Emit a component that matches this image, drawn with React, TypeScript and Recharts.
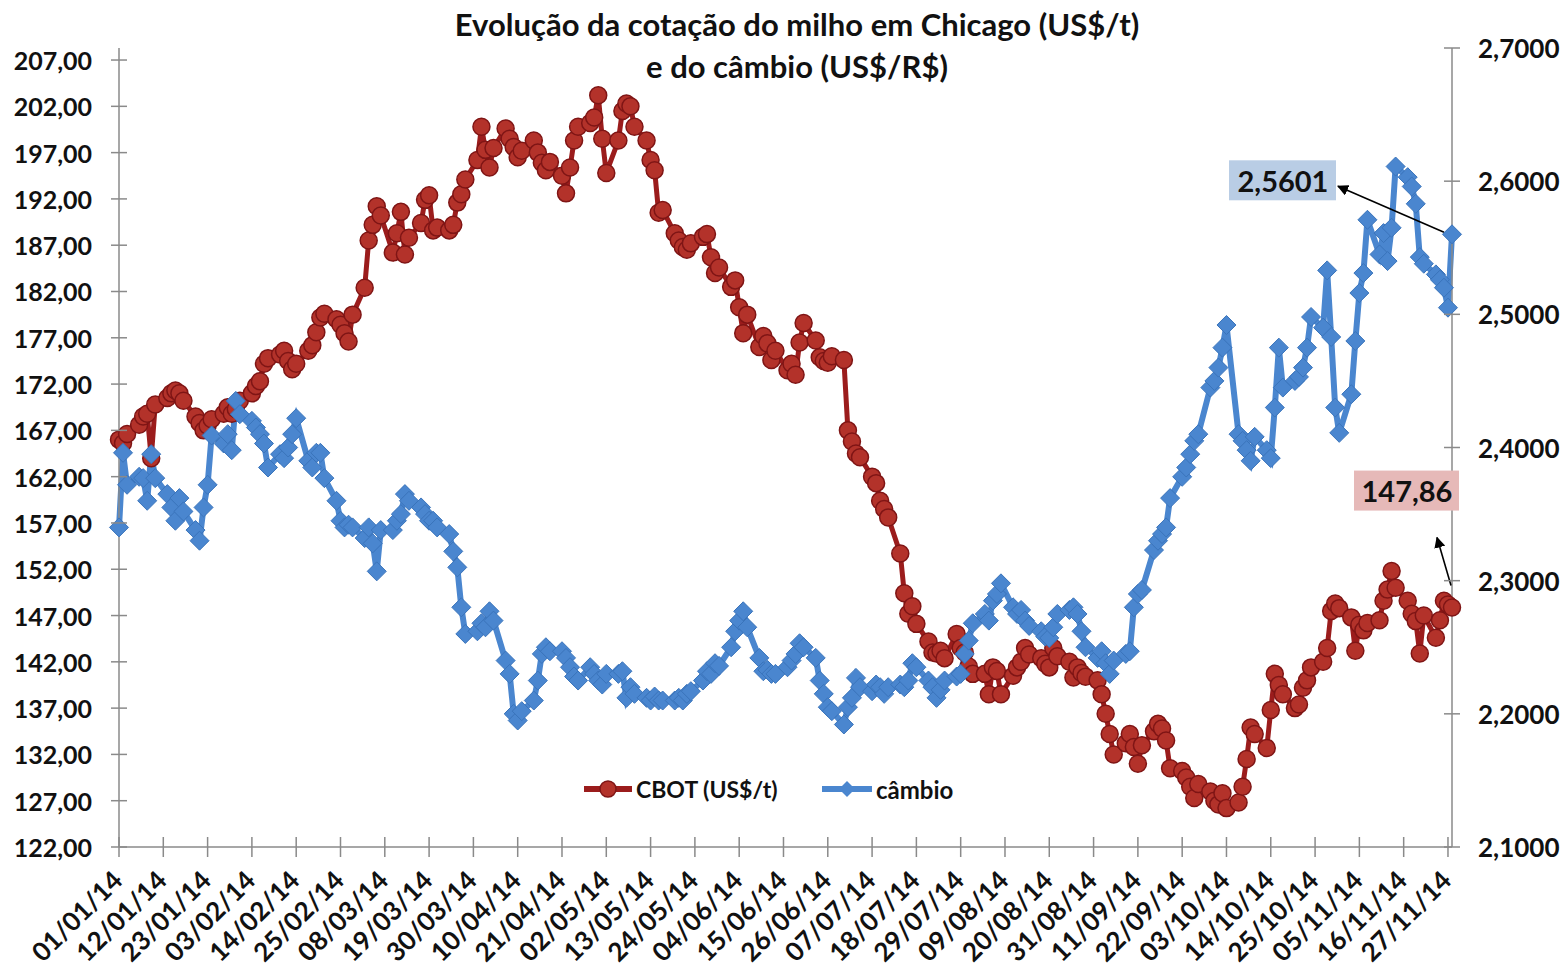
import { LineChart, Line, XAxis, YAxis, Legend, ReferenceDot } from 'recharts';

const START = Date.UTC(2014, 0, 1);
const DAY_MS = 86400000;
const LAST_DAY = 331; // 28/11/14

// dias úteis (seg-sex) de 01/01/14 a 28/11/14
const tradingDays: number[] = [];
for (let d = 0; d <= LAST_DAY; d++) {
  const wd = new Date(START + d * DAY_MS).getUTCDay();
  if (wd !== 0 && wd !== 6) tradingDays.push(d);
}

const xTicks = [0, 11, 22, 33, 44, 55, 66, 77, 88, 99, 110, 121, 132, 143, 154, 165, 176, 187, 198, 209, 220, 231, 242, 253, 264, 275, 286, 297, 308, 319, 330];
const leftTicks = [122, 127, 132, 137, 142, 147, 152, 157, 162, 167, 172, 177, 182, 187, 192, 197, 202, 207];
const rightTicks = [2.1, 2.2, 2.3, 2.4, 2.5, 2.6, 2.7];

// CBOT (US$/t), uma linha por semana
const cbot = [
  166.0, 165.6, 166.6,
  167.6, 168.5, 168.8, 164.0, 169.8,
  170.5, 171.0, 171.3, 171.0, 170.2,
  168.5, 167.8, 167.0, 167.5, 168.2,
  168.8, 169.5, 168.8, 169.3, 170.2,
  171.0, 171.8, 172.3, 174.2, 174.8,
  175.2, 175.6, 174.5, 173.6, 174.2,
  175.6, 176.2, 177.6, 179.2, 179.6,
  179.0, 178.4, 177.5, 176.6, 179.5,
  182.4, 187.5, 189.2, 191.2, 190.2,
  186.2, 188.3, 190.6, 186.0, 187.8,
  189.4, 191.9, 192.4, 188.6, 188.9,
  188.6, 189.2, 191.6, 192.5, 194.1,
  196.2, 199.8, 197.3, 195.4, 197.5,
  199.6, 198.5, 197.6, 196.5, 197.2,
  198.3, 197.0, 195.9, 195.1, 196.0,
  194.5, 192.6, 195.4, 198.3, 199.8,
  200.2, 200.8, 203.2, 198.5, 194.8,
  198.3, 201.5, 202.3, 202.0, 199.8,
  198.3, 196.2, 195.1, 190.5, 190.8,
  188.3, 187.5, 186.8, 186.5, 187.2,
  187.9, 188.2, 185.7, 184.0, 184.6,
  182.5, 183.2, 180.3, 177.5, 179.5,
  176.0, 177.2, 176.4, 174.6, 175.6,
  173.5, 174.2, 173.0, 176.5, 178.6,
  176.7, 174.9, 174.5, 174.3, 175.0,
  174.6, 167.0, 165.8, 164.5, 164.1,
  162.0, 161.3, 159.4, 158.5, 157.6,
  153.7, 149.4, 147.2, 148.0, 146.1,
  144.2, 143.0, 142.9, 143.2, 142.4,
  145.0, 143.5, 143.0, 141.5, 140.7,
  140.7, 138.5, 141.4, 141.0, 138.5,
  140.5, 141.4, 142.0, 143.5, 142.8,
  142.4, 141.8, 141.4, 143.5, 142.6,
  142.0, 140.3, 141.4, 140.8, 140.4,
  140.0, 138.5, 136.4, 134.2, 132.0,
  133.2, 134.2, 132.8, 131.0, 133.0,
  134.5, 135.3, 134.8, 133.5, 130.5,
  130.2, 129.5, 128.5, 127.3, 128.8,
  128.0, 127.0, 126.6, 127.8, 126.2,
  126.8, 128.5, 131.5, 134.9, 134.2,
  132.7, 136.8, 140.7, 139.5, 138.5,
  137.0, 137.4, 139.2, 140.0, 141.4,
  142.0, 143.5, 147.5, 148.3, 147.8,
  146.8, 143.2, 146.0, 145.4, 146.2,
  146.5, 148.6, 149.8, 151.8, 150.0,
  148.6, 147.2, 146.4, 142.9, 147.0,
  144.6, 146.5, 148.6, 148.2, 147.86,
];

// câmbio (US$/R$)
const cambio = [
  2.340, 2.396, 2.372,
  2.378, 2.377, 2.360, 2.395, 2.377,
  2.365, 2.355, 2.345, 2.362, 2.352,
  2.338, 2.330, 2.355, 2.372, 2.409,
  2.403, 2.410, 2.398, 2.435, 2.425,
  2.420, 2.415, 2.410, 2.403, 2.385,
  2.395, 2.392, 2.400, 2.410, 2.422,
  2.390, 2.385, 2.396, 2.396, 2.377,
  2.360, 2.345, 2.340, 2.342, 2.340,
  2.332, 2.340, 2.328, 2.307, 2.338,
  2.338, 2.345, 2.350, 2.365, 2.360,
  2.355, 2.350, 2.345, 2.345, 2.340,
  2.335, 2.322, 2.310, 2.280, 2.260,
  2.262, 2.268, 2.265, 2.277, 2.270,
  2.240, 2.230, 2.200, 2.195, 2.202,
  2.210, 2.225, 2.245, 2.250, 2.247,
  2.247, 2.242, 2.235, 2.228, 2.225,
  2.235, 2.230, 2.225, 2.222, 2.230,
  2.230, 2.232, 2.212, 2.220, 2.215,
  2.212, 2.210, 2.213, 2.210, 2.210,
  2.210, 2.212, 2.210, 2.215, 2.217,
  2.225, 2.232, 2.230, 2.238, 2.236,
  2.250, 2.262, 2.270, 2.277, 2.265,
  2.242, 2.232, 2.233, 2.230, 2.230,
  2.235, 2.240, 2.245, 2.253, 2.250,
  2.242, 2.225, 2.215, 2.205, 2.202,
  2.192, 2.205, 2.212, 2.227, 2.220,
  2.217, 2.222, 2.220, 2.215, 2.220,
  2.222, 2.220, 2.225, 2.238, 2.235,
  2.225, 2.220, 2.212, 2.218, 2.225,
  2.228, 2.230, 2.245, 2.255, 2.268,
  2.275, 2.270, 2.285, 2.290, 2.298,
  2.280, 2.275, 2.278, 2.270, 2.266,
  2.262, 2.258, 2.257, 2.265, 2.275,
  2.278, 2.280, 2.275, 2.262, 2.250,
  2.242, 2.247, 2.238, 2.230, 2.240,
  2.245, 2.247, 2.280, 2.290, 2.293,
  2.323, 2.330, 2.335, 2.340, 2.362,
  2.378, 2.385, 2.395, 2.405, 2.410,
  2.445, 2.450, 2.460, 2.475, 2.492,
  2.410, 2.405, 2.398, 2.390, 2.408,
  2.398, 2.392, 2.430, 2.475, 2.445,
  2.450, 2.453, 2.460, 2.475, 2.498,
  2.490, 2.533, 2.483, 2.430, 2.411,
  2.440, 2.480, 2.516, 2.531, 2.571,
  2.545, 2.561, 2.540, 2.565, 2.611,
  2.603, 2.596, 2.583, 2.543, 2.538,
  2.530, 2.526, 2.520, 2.505, 2.5601,
];

const data = tradingDays.map((day, i) => ({ day, cbot: cbot[i], cambio: cambio[i] }));
const last = data[data.length - 1];

const FONT = "Lato, 'Open Sans', sans-serif";
const AXIS = '#8a8a8a';
const RED = '#9b1c1c';
const RED_FILL = '#b3322a';
const RED_EDGE = '#7f1515';
const BLUE = '#4a86cf';
const BLUE_EDGE = '#3a74bb';
const TXT = '#111';

const pad = (n: number) => String(n).padStart(2, '0');
const fmtDate = (d: number) => {
  const dt = new Date(START + d * DAY_MS);
  return `${pad(dt.getUTCDate())}/${pad(dt.getUTCMonth() + 1)}/${String(dt.getUTCFullYear()).slice(2)}`;
};
const br = (v: number, dec: number) => v.toFixed(dec).replace('.', ',');

const TS = 8; // meia-marca do eixo
const LM = 19;
const RM = 18;
const BM = 20;

const LeftTick = (p: any) => {
  const ax = p.x + TS + LM;
  return (
    <g>
      <line x1={ax - TS} x2={ax + TS} y1={p.y} y2={p.y} stroke={AXIS} strokeWidth={1.5} />
      <text x={p.x} y={p.y} textAnchor="end" dominantBaseline="central" fontFamily={FONT} fontWeight={700} fontSize={25} fill={TXT}>
        {br(p.payload.value, 2)}
      </text>
    </g>
  );
};

const RightTick = (p: any) => {
  const ax = p.x - TS - RM;
  return (
    <g>
      <line x1={ax - TS} x2={ax + TS} y1={p.y} y2={p.y} stroke={AXIS} strokeWidth={1.5} />
      <text x={p.x} y={p.y} textAnchor="start" dominantBaseline="central" fontFamily={FONT} fontWeight={700} fontSize={26} fill={TXT}>
        {br(p.payload.value, 4)}
      </text>
    </g>
  );
};

const BottomTick = (p: any) => {
  const ay = p.y - TS - BM;
  const tx = p.x - 2;
  return (
    <g>
      <line x1={p.x} x2={p.x} y1={ay - 10} y2={ay + 10} stroke={AXIS} strokeWidth={1.5} />
      <text x={tx} y={p.y} textAnchor="end" dominantBaseline="central" transform={`rotate(-45 ${tx} ${p.y})`} fontFamily={FONT} fontWeight={700} fontSize={26} fill={TXT}>
        {fmtDate(p.payload.value)}
      </text>
    </g>
  );
};

const Diamond = (p: any) => {
  const { cx, cy, index } = p;
  const s = 9.5;
  return (
    <polygon key={index} points={`${cx},${cy - s} ${cx + s},${cy} ${cx},${cy + s} ${cx - s},${cy}`} fill={BLUE} stroke={BLUE_EDGE} strokeWidth={1} />
  );
};

const Arrow = ({ id }: { id: string }) => (
  <defs>
    <marker id={id} viewBox="0 0 10 10" refX="9" refY="5" markerWidth="7" markerHeight="7" orient="auto-start-reverse">
      <path d="M0,0 L10,5 L0,10 z" fill="#000" />
    </marker>
  </defs>
);

const BlueNote = (p: any) => {
  const { cx, cy } = p;
  return (
    <g>
      <Arrow id="arrowBlue" />
      <line x1={cx - 8} y1={cy - 2} x2={cx - 114} y2={cy - 48} stroke="#000" strokeWidth={1.6} markerEnd="url(#arrowBlue)" />
      <rect x={cx - 223} y={cy - 74} width={107} height={40} fill="#b9cde5" />
      <text x={cx - 169} y={cy - 54} textAnchor="middle" dominantBaseline="central" fontFamily={FONT} fontWeight={700} fontSize={29} fill={TXT}>
        {br(last.cambio, 4)}
      </text>
    </g>
  );
};

const RedNote = (p: any) => {
  const { cx, cy } = p;
  return (
    <g>
      <Arrow id="arrowRed" />
      <line x1={cx - 1} y1={cy - 22} x2={cx - 15} y2={cy - 70} stroke="#000" strokeWidth={1.6} markerEnd="url(#arrowRed)" />
      <rect x={cx - 98} y={cy - 137} width={105} height={40} fill="#e6b9b8" />
      <text x={cx - 45} y={cy - 117} textAnchor="middle" dominantBaseline="central" fontFamily={FONT} fontWeight={700} fontSize={29} fill={TXT}>
        {br(last.cbot, 2)}
      </text>
    </g>
  );
};

const LegendBox = () => (
  <svg width={400} height={34}>
    <line x1={4} x2={52} y1={17} y2={17} stroke={RED} strokeWidth={6} />
    <circle cx={28} cy={17} r={8} fill={RED_FILL} stroke={RED_EDGE} strokeWidth={1.5} />
    <text x={56} y={17} dominantBaseline="central" fontFamily={FONT} fontWeight={700} fontSize={23} fill={TXT}>CBOT (US$/t)</text>
    <line x1={242} x2={292} y1={17} y2={17} stroke={BLUE} strokeWidth={6} />
    <polygon points="267,9 275,17 267,25 259,17" fill={BLUE} />
    <text x={296} y={17} dominantBaseline="central" fontFamily={FONT} fontWeight={700} fontSize={24} fill={TXT}>câmbio</text>
  </svg>
);

export default function App() {
  return (
    <div style={{ position: 'absolute', left: 0, top: 0, width: 1564, height: 976, background: '#fff' }}>
      <div style={{ position: 'absolute', left: 297, top: 3, width: 1000, textAlign: 'center', fontFamily: FONT, fontWeight: 700, fontSize: 31, lineHeight: '42px', color: TXT }}>
        Evolução da cotação do milho em Chicago (US$/t)
        <br />
        e do câmbio (US$/R$)
      </div>
      <LineChart width={1564} height={976} data={data} margin={{ top: 48, right: 0, bottom: 0, left: 0 }}>
        <XAxis
          type="number"
          dataKey="day"
          domain={[0, LAST_DAY]}
          ticks={xTicks}
          interval={0}
          height={129}
          tickSize={TS}
          tickMargin={BM}
          tickLine={false}
          axisLine={{ stroke: AXIS, strokeWidth: 1.5 }}
          tick={BottomTick}
        />
        <YAxis
          yAxisId="left"
          domain={[122, 208.3]}
          ticks={leftTicks}
          interval={0}
          allowDataOverflow
          width={119}
          tickSize={TS}
          tickMargin={LM}
          tickLine={false}
          axisLine={{ stroke: AXIS, strokeWidth: 1.5 }}
          tick={LeftTick}
        />
        <YAxis
          yAxisId="right"
          orientation="right"
          domain={[2.1, 2.7]}
          ticks={rightTicks}
          interval={0}
          allowDataOverflow
          width={112}
          tickSize={TS}
          tickMargin={RM}
          tickLine={false}
          axisLine={{ stroke: AXIS, strokeWidth: 1.5 }}
          tick={RightTick}
        />
        <Legend
          verticalAlign="middle"
          align="center"
          content={LegendBox}
          wrapperStyle={{ position: 'absolute', left: 580, top: 772, width: 400, height: 34 }}
        />
        <Line
          yAxisId="left"
          dataKey="cbot"
          name="CBOT (US$/t)"
          stroke={RED}
          strokeWidth={5}
          dot={{ r: 8.5, fill: RED_FILL, stroke: RED_EDGE, strokeWidth: 1.5 }}
          activeDot={false}
          isAnimationActive={false}
        />
        <Line
          yAxisId="right"
          dataKey="cambio"
          name="câmbio"
          stroke={BLUE}
          strokeWidth={6}
          dot={Diamond}
          activeDot={false}
          isAnimationActive={false}
        />
        <ReferenceDot yAxisId="right" x={last.day} y={last.cambio} shape={BlueNote} />
        <ReferenceDot yAxisId="left" x={last.day} y={last.cbot} shape={RedNote} />
      </LineChart>
    </div>
  );
}
